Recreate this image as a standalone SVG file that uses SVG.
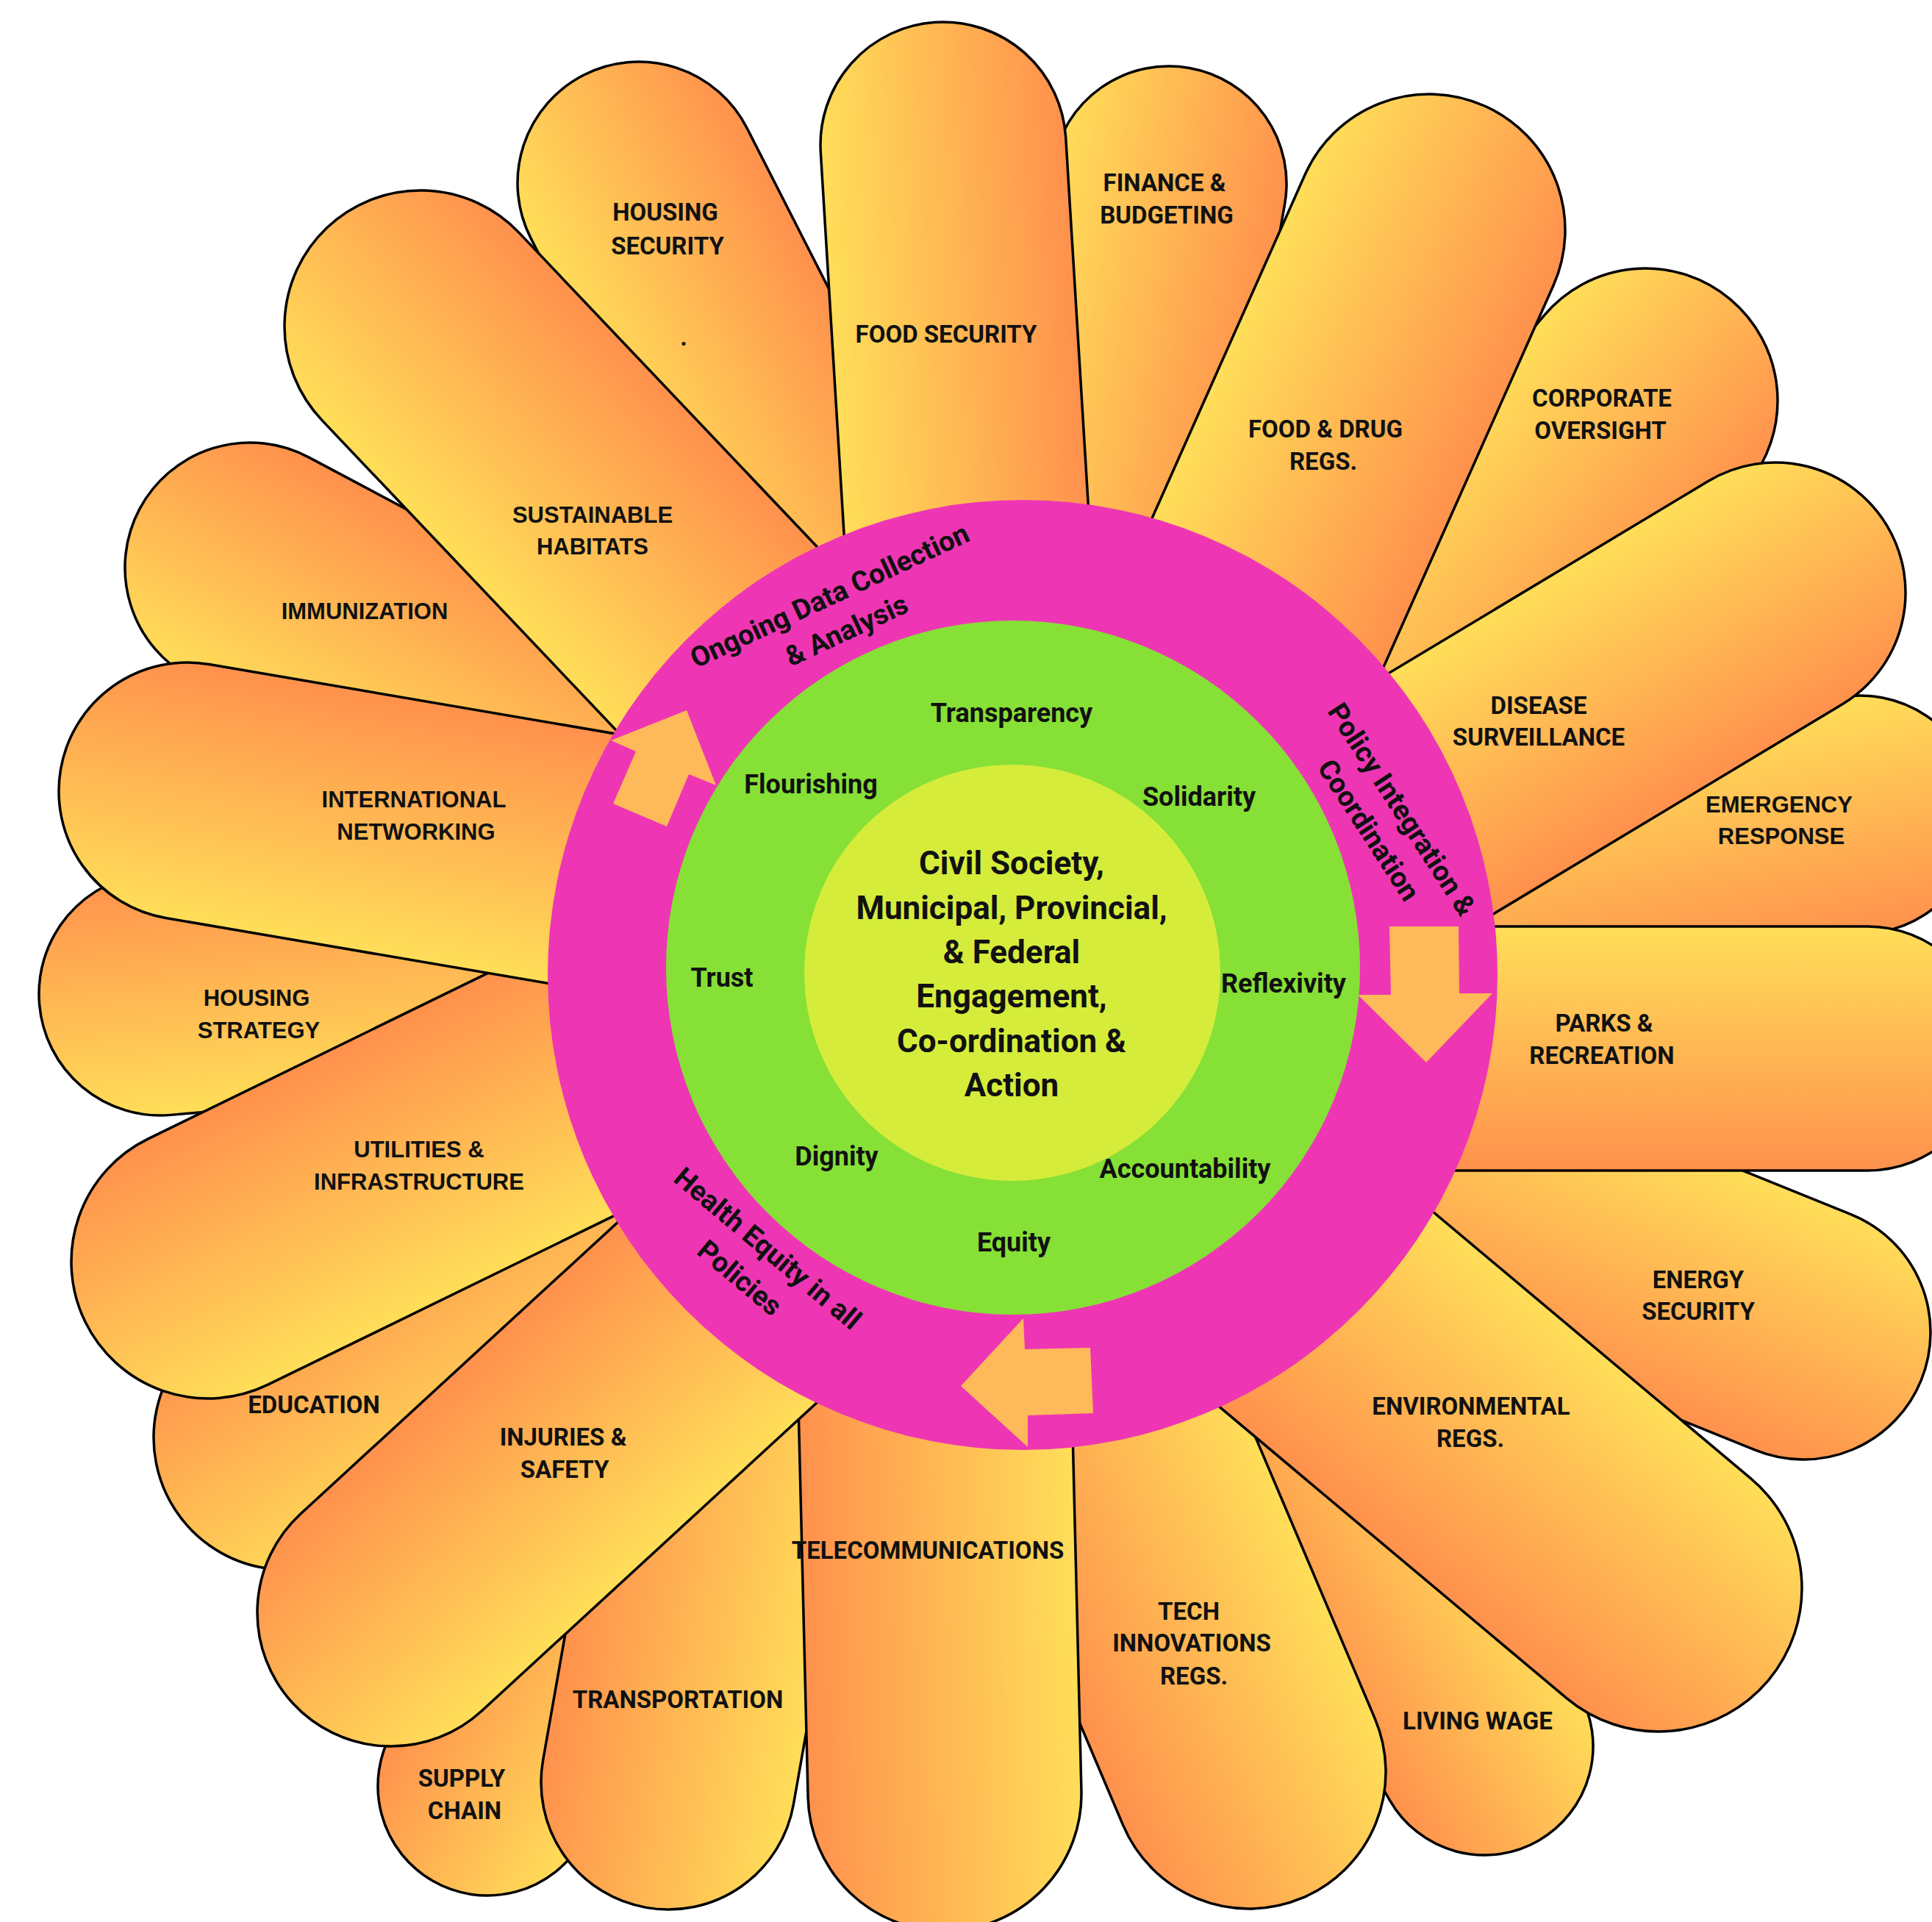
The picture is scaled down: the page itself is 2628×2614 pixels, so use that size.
<svg xmlns="http://www.w3.org/2000/svg" width="2628" height="2614" viewBox="0 0 2628 2614">
<defs>
<linearGradient id="pg" x1="0" y1="0" x2="1" y2="0">
<stop offset="0" stop-color="#FFDE59"/>
<stop offset="1" stop-color="#FF914D"/>
</linearGradient>
<style>
.petal{fill:url(#pg);stroke:#000;stroke-width:3.5}
.lbl{font-family:Roboto,"Liberation Sans",sans-serif;font-weight:700;font-size:33px;text-anchor:middle;fill:#111}
.lbl2{font-family:"Liberation Sans",Arial,sans-serif;font-weight:700;font-size:31px;text-anchor:middle;fill:#111}
.val{font-family:Roboto,"Liberation Sans",sans-serif;font-weight:700;font-size:36px;text-anchor:middle;fill:#111}
.ctr{font-family:Roboto,"Liberation Sans",sans-serif;font-weight:700;font-size:44px;text-anchor:middle;fill:#111}
.ring{font-family:Roboto,"Liberation Sans",sans-serif;font-weight:700;font-size:38px;text-anchor:middle;fill:#111}
.arrow{fill:#FDB95A}
</style>
</defs>
<rect width="2628" height="2614" fill="#fff"/>
<g id="petals">
<g id="finance"><rect class="petal" x="-160" y="-160" width="320" height="1070" rx="160" transform="translate(1590,250) rotate(10)"/>
<text class="lbl" x="1584" y="260">FINANCE &amp;</text><text class="lbl" x="1587" y="304">BUDGETING</text></g>
<g id="corporate"><rect class="petal" x="-180" y="-180" width="360" height="1150" rx="180" transform="translate(2238,545) rotate(40)"/>
<text class="lbl" x="2179" y="553">CORPORATE</text><text class="lbl" x="2177" y="597">OVERSIGHT</text></g>
<g id="emergency"><rect class="petal" x="-162" y="-162" width="324" height="1142" rx="162" transform="translate(2530,1108) rotate(79)"/>
<text class="lbl2" x="2420" y="1105">EMERGENCY</text><text class="lbl2" x="2423" y="1148">RESPONSE</text></g>
<g id="energy"><rect class="petal" x="-173" y="-173" width="346" height="1163" rx="173" transform="translate(2453,1812) rotate(112)"/>
<text class="lbl" x="2310" y="1752">ENERGY</text><text class="lbl" x="2310" y="1795">SECURITY</text></g>
<g id="living-wage"><rect class="petal" x="-148" y="-148" width="296" height="1188" rx="148" transform="translate(2019,2375) rotate(150)"/>
<text class="lbl" x="2010" y="2352">LIVING WAGE</text></g>
<g id="supply-chain"><rect class="petal" x="-149" y="-149" width="298" height="1289" rx="149" transform="translate(663,2429) rotate(210)"/>
<text class="lbl" x="628" y="2430">SUPPLY</text><text class="lbl" x="632" y="2474">CHAIN</text></g>
<g id="education"><rect class="petal" x="-180" y="-180" width="360" height="1180" rx="180" transform="translate(389,1955) rotate(237)"/>
<text class="lbl" x="427" y="1922">EDUCATION</text></g>
<g id="housing-strategy"><rect class="petal" x="-165" y="-165" width="330" height="1155" rx="165" transform="translate(218,1352) rotate(265)"/>
<text class="lbl2" x="349" y="1368">HOUSING</text><text class="lbl2" x="352" y="1412">STRATEGY</text></g>
<g id="immunization"><rect class="petal" x="-170" y="-170" width="340" height="1170" rx="170" transform="translate(340,772) rotate(298)"/>
<text class="lbl2" x="496" y="842">IMMUNIZATION</text></g>
<g id="housing-security"><rect class="petal" x="-165" y="-165" width="330" height="1180" rx="165" transform="translate(869,249) rotate(333)"/>
<text class="lbl" x="905" y="300">HOUSING</text><text class="lbl" x="908" y="346">SECURITY</text><text class="lbl" x="930" y="470">.</text></g>
<g id="transportation"><rect class="petal" x="-173" y="-173" width="346" height="1193" rx="173" transform="translate(909,2424) rotate(190)"/>
<text class="lbl" x="922" y="2323">TRANSPORTATION</text></g>
<g id="tech"><rect class="petal" x="-186" y="-186" width="372" height="1136" rx="186" transform="translate(1699,2410) rotate(157)"/>
<text class="lbl" x="1617" y="2203">TECH</text><text class="lbl" x="1621" y="2246">INNOVATIONS</text><text class="lbl" x="1624" y="2291">REGS.</text></g>
<g id="food-security"><rect class="petal" x="-167" y="-167" width="334" height="1117" rx="167" transform="translate(1283,197) rotate(-3.5)"/>
<text class="lbl" x="1287" y="466">FOOD SECURITY</text></g>
<g id="food-drug"><rect class="petal" x="-185" y="-185" width="370" height="1155" rx="185" transform="translate(1944,313) rotate(24)"/>
<text class="lbl" x="1803" y="595">FOOD &amp; DRUG</text><text class="lbl" x="1800" y="639">REGS.</text></g>
<g id="disease"><rect class="petal" x="-177" y="-177" width="354" height="1147" rx="177" transform="translate(2415,806) rotate(59)"/>
<text class="lbl" x="2093" y="971">DISEASE</text><text class="lbl" x="2093" y="1014">SURVEILLANCE</text></g>
<g id="parks"><rect class="petal" x="-166" y="-166" width="332" height="1136" rx="166" transform="translate(2540,1426) rotate(90)"/>
<text class="lbl" x="2182" y="1403">PARKS &amp;</text><text class="lbl" x="2179" y="1447">RECREATION</text></g>
<g id="environmental"><rect class="petal" x="-195" y="-195" width="390" height="1215" rx="195" transform="translate(2256,2160) rotate(130)"/>
<text class="lbl" x="2001" y="1924">ENVIRONMENTAL</text><text class="lbl" x="2000" y="1968">REGS.</text></g>
<g id="telecom"><rect class="petal" x="-186" y="-186" width="372" height="1126" rx="186" transform="translate(1285,2440) rotate(178.6)"/>
<text class="lbl" x="1262" y="2120">TELECOMMUNICATIONS</text></g>
<g id="injuries"><rect class="petal" x="-182" y="-182" width="364" height="1222" rx="182" transform="translate(532,2193) rotate(227.4)"/>
<text class="lbl" x="766" y="1966">INJURIES &amp;</text><text class="lbl" x="768" y="2010">SAFETY</text></g>
<g id="utilities"><rect class="petal" x="-186" y="-186" width="372" height="1181" rx="186" transform="translate(283,1716) rotate(244)"/>
<text class="lbl2" x="570" y="1574">UTILITIES &amp;</text><text class="lbl2" x="570" y="1618">INFRASTRUCTURE</text></g>
<g id="international"><rect class="petal" x="-175" y="-175" width="350" height="1155" rx="175" transform="translate(255,1076) rotate(279.7)"/>
<text class="lbl2" x="563" y="1098">INTERNATIONAL</text><text class="lbl2" x="566" y="1142">NETWORKING</text></g>
<g id="sustainable"><rect class="petal" x="-185" y="-185" width="370" height="1205" rx="185" transform="translate(572,444) rotate(316.5)"/>
<text class="lbl2" x="806" y="711">SUSTAINABLE</text><text class="lbl2" x="806" y="754">HABITATS</text></g>
</g>
<g id="ring">
<circle cx="1391" cy="1326" r="646" fill="#EE36B4"/>
<text class="ring" transform="translate(1134,822) rotate(-25)">Ongoing Data Collection</text>
<text class="ring" transform="translate(1157,869) rotate(-25)">&amp; Analysis</text>
<text class="ring" transform="translate(1896,1108) rotate(57)">Policy Integration &amp;</text>
<text class="ring" transform="translate(1851,1136) rotate(57)">Coordination</text>
<text class="ring" transform="translate(1036,1708) rotate(40)">Health Equity in all</text>
<text class="ring" transform="translate(998,1748) rotate(40)">Policies</text>
</g>
<g id="connectors">
<polygon class="arrow" points="934,966 974,1068 937,1053 907,1124 834,1093 865,1022 831,1007"/>
<polygon class="arrow" points="1890,1260 1984,1260 1985,1351 2030,1351 1940,1445 1847,1353 1892,1353"/>
<polygon class="arrow" points="1392,1793 1394,1835 1483,1833 1487,1922 1398,1925 1398,1968 1307,1885"/>
</g>
<g id="values">
<circle cx="1378" cy="1316" r="472" fill="#86E036"/>
<text class="val" x="1376" y="982">Transparency</text>
<text class="val" x="1631" y="1096">Solidarity</text>
<text class="val" x="1746" y="1350">Reflexivity</text>
<text class="val" x="1612" y="1602">Accountability</text>
<text class="val" x="1379" y="1702">Equity</text>
<text class="val" x="1138" y="1585">Dignity</text>
<text class="val" x="982" y="1342">Trust</text>
<text class="val" x="1103" y="1079">Flourishing</text>
</g>
<g id="center">
<circle cx="1377" cy="1323" r="283" fill="#D5EC3B"/>
<text class="ctr" x="1376" y="1189">Civil Society,</text>
<text class="ctr" x="1376" y="1250">Municipal, Provincial,</text>
<text class="ctr" x="1376" y="1310">&amp; Federal</text>
<text class="ctr" x="1376" y="1370">Engagement,</text>
<text class="ctr" x="1376" y="1431">Co-ordination &amp;</text>
<text class="ctr" x="1376" y="1491">Action</text>
</g>
</svg>
